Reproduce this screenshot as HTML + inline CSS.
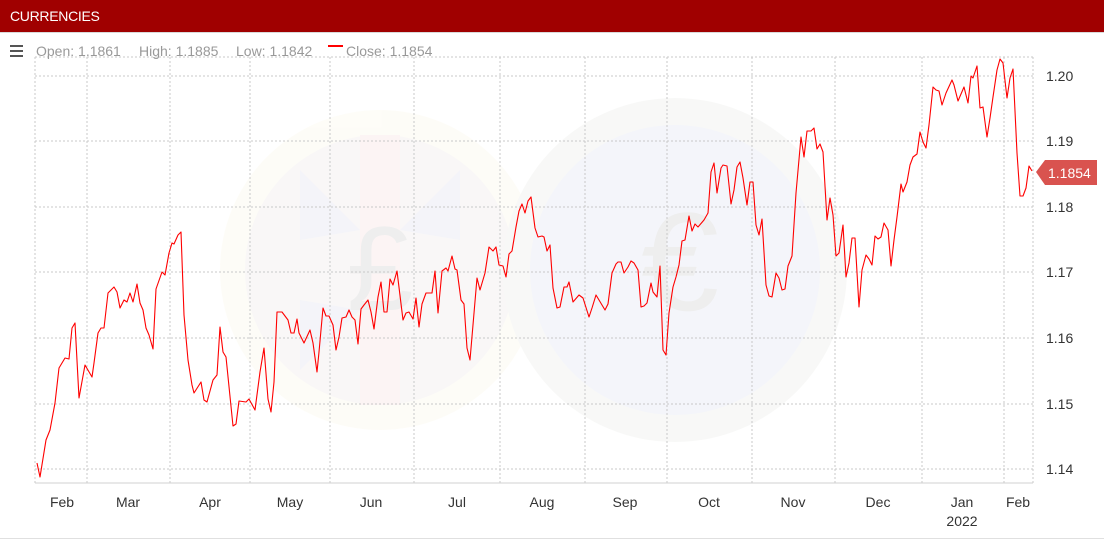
<!DOCTYPE html>
<html><head><meta charset="utf-8"><style>
html,body{margin:0;padding:0;background:#fff;}
body{width:1104px;height:541px;overflow:hidden;position:relative;font-family:"Liberation Sans",sans-serif;}
.hdr{position:absolute;left:0;top:0;width:1104px;height:32px;background:#a00000;border-bottom:1px solid #d9d9d9;}
.hdr span{position:absolute;left:10px;top:8px;color:#fff;font-size:14px;letter-spacing:-0.3px;}
</style></head><body>
<div class="hdr"><span>CURRENCIES</span></div>
<svg width="1104" height="541" style="position:absolute;left:0;top:0" xmlns="http://www.w3.org/2000/svg">
<g opacity="0.6">
<circle cx="380" cy="270" r="160" fill="#fdfbf3"/>
<circle cx="380" cy="270" r="135" fill="#f6f3f3"/>
<path d="M300 170 L360 230 L300 240Z M460 170 L400 230 L460 240Z M300 370 L360 310 L300 300Z" fill="#edeef6"/>
<rect x="360" y="135" width="40" height="270" fill="#fbeeee"/>
<circle cx="675" cy="270" r="172" fill="#f4f5f2"/>
<circle cx="675" cy="270" r="145" fill="#eef0f8"/>
<text x="380" y="310" font-size="120" fill="#e4e4e4" text-anchor="middle" font-family="Liberation Sans">£</text>
<text x="680" y="310" font-size="140" fill="#e4e4e4" text-anchor="middle" font-family="Liberation Sans">€</text>
</g>
<g stroke="#c8c8c8" stroke-dasharray="2,2" stroke-width="1" fill="none">
<path d="M35 57H1033 M35 76H1033 M35 141H1033 M35 207H1033 M35 272H1033 M35 338H1033 M35 404H1033 M35 469H1033"/>
<path d="M87 57V483 M170 57V483 M250 57V483 M330 57V483 M414 57V483 M500 57V483 M585 57V483 M667 57V483 M752 57V483 M835 57V483 M922 57V483 M1004 57V483 M1033 57V483 M35 57V483"/>
</g>
<line x1="35" y1="483" x2="1033" y2="483" stroke="#d0d0d0"/>
<polyline fill="none" stroke="#ff0000" stroke-width="1.1" stroke-linejoin="round" points="37,463 40,477 46,440 50,430 55,403 59,368 65,358 69,359 72,328 75,323 79,398 85,365 92,377 94,363 98,333 101,328 104,328 108,293 114,287 117,292 120,308 124,300 127,302 130,293 133,302 137,284 140,303 143,310 146,328 149,335 153,349 156,289 162,272 165,275 169,253 172,243 174,244 178,235 181,232 184,315 188,360 192,385 194,393 201,382 204,400 207,402 213,380 217,375 220,327 223,352 226,357 233,426 236,424 239,401 246,402 249,399 255,410 260,372 264,348 268,399 271,412 274,382 277,312 282,312 288,320 291,333 294,333 297,319 299,333 304,343 310,330 313,343 317,372 319,352 323,308 326,316 329,316 333,325 336,350 339,337 342,318 346,317 349,310 352,317 355,320 358,344 361,309 364,305 368,300 371,312 374,329 378,297 381,282 384,312 387,312 390,279 393,285 397,271 403,320 406,313 409,312 413,319 416,298 419,327 422,304 426,293 432,293 435,271 438,313 442,271 446,268 448,271 452,256 455,269 457,270 461,300 464,304 467,348 470,360 477,278 480,290 485,273 489,247 493,251 496,247 499,265 503,266 506,277 509,254 512,251 516,227 519,211 522,204 525,213 528,201 531,197 535,228 538,237 542,236 544,237 547,251 550,245 553,288 557,308 560,307 564,287 567,287 569,282 573,302 579,295 583,298 589,317 592,308 596,295 605,310 608,304 612,273 616,264 618,262 621,262 624,273 628,267 631,261 634,263 638,270 641,307 644,306 647,303 651,283 653,292 657,297 660,266 663,350 666,355 669,313 673,287 676,277 679,265 682,241 685,240 689,216 692,231 695,224 698,227 704,220 708,213 711,172 714,163 717,193 721,168 723,165 727,166 731,204 734,190 737,167 740,162 743,178 747,205 750,182 753,182 756,225 759,235 762,219 766,285 769,296 772,297 776,273 779,278 782,290 785,289 788,266 792,256 796,193 801,137 804,157 807,131 811,131 814,128 817,149 820,144 823,152 827,220 830,198 833,215 836,256 839,253 843,225 846,277 849,263 852,238 855,238 859,307 862,270 866,255 869,259 872,265 875,236 878,239 881,237 884,223 888,230 891,266 894,240 897,217 901,184 903,192 907,182 910,165 913,157 917,154 920,132 923,142 926,148 929,125 933,87 936,90 939,91 942,105 946,93 952,80 954,85 958,101 964,87 968,103 971,76 973,78 977,66 980,108 983,107 987,137 990,118 993,97 997,70 1000,59 1003,63 1007,98 1010,78 1013,69 1017,153 1020,196 1023,196 1026,188 1029,166 1032,171"/>
<g font-family="Liberation Sans" font-size="14" fill="#333">
<text x="1046" y="81">1.20</text><text x="1046" y="146">1.19</text><text x="1046" y="212">1.18</text>
<text x="1046" y="277">1.17</text><text x="1046" y="343">1.16</text><text x="1046" y="409">1.15</text><text x="1046" y="474">1.14</text>
</g>
<path d="M1036 172 L1045 160 L1097 160 L1097 185 L1045 185 Z" fill="#d9534f"/>
<text x="1048" y="178" font-family="Liberation Sans" font-size="14" fill="#fff">1.1854</text>
<g font-family="Liberation Sans" font-size="14" fill="#333" text-anchor="middle">
<text x="62" y="507">Feb</text><text x="128" y="507">Mar</text><text x="210" y="507">Apr</text><text x="290" y="507">May</text>
<text x="371" y="507">Jun</text><text x="457" y="507">Jul</text><text x="542" y="507">Aug</text><text x="625" y="507">Sep</text>
<text x="709" y="507">Oct</text><text x="793" y="507">Nov</text><text x="878" y="507">Dec</text><text x="962" y="507">Jan</text>
<text x="1018" y="507">Feb</text><text x="962" y="526">2022</text>
</g>
<line x1="0" y1="538.5" x2="1104" y2="538.5" stroke="#e0e0e0"/>
<g fill="#555"><rect x="10" y="45" width="13" height="2"/><rect x="10" y="50" width="13" height="2"/><rect x="10" y="55" width="13" height="2"/></g>
<g font-family="Liberation Sans" font-size="14" fill="#999">
<text x="36" y="56">Open: 1.1861</text><text x="139" y="56">High: 1.1885</text><text x="236" y="56">Low: 1.1842</text><text x="346" y="56">Close: 1.1854</text>
</g>
<rect x="328" y="45" width="15" height="2" fill="#ff0000"/>
</svg>
</body></html>
